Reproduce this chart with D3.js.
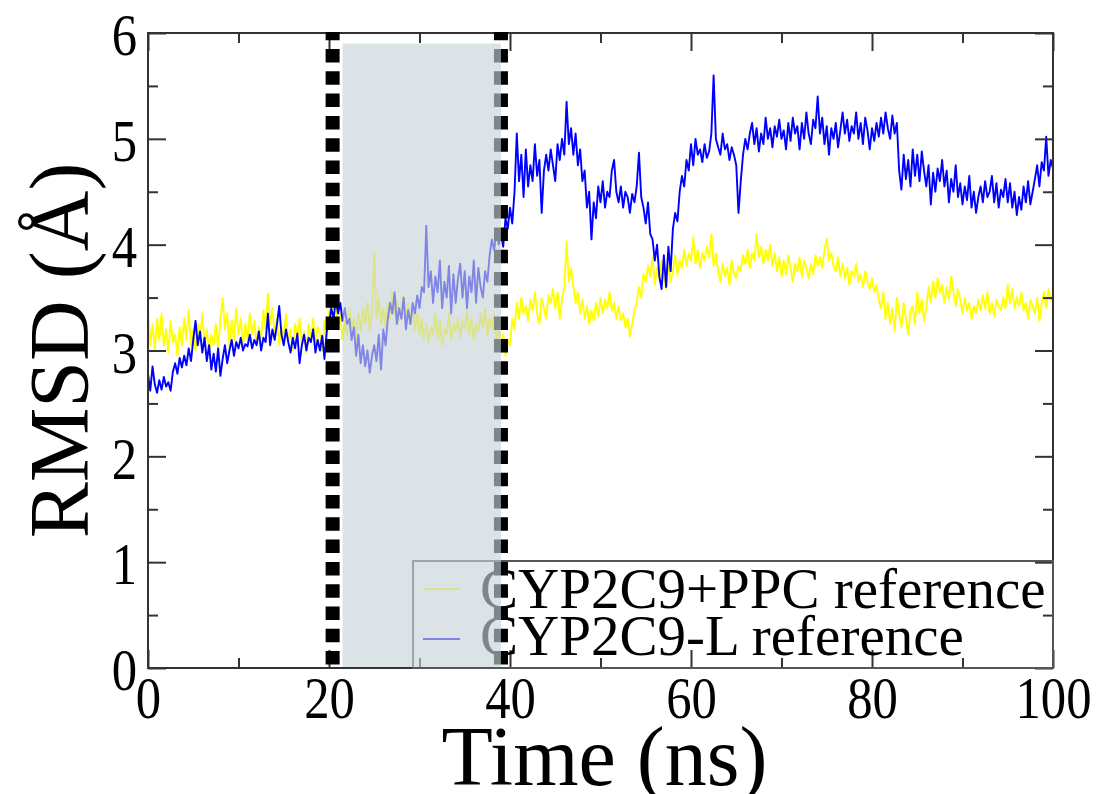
<!DOCTYPE html>
<html>
<head>
<meta charset="utf-8">
<script src="https://cdn.jsdelivr.net/npm/d3@7"></script>
<style>
  html, body { margin: 0; padding: 0; background: #fff; }
  svg text { font-family: "Liberation Serif", "Times New Roman", serif; fill: #000; }
</style>
</head>
<body>
<svg id="chart" width="1100" height="794"></svg>
<script>
// RMSD trajectories, one frame every 0.25 ns from 0 to 100 ns
const timeStep = 0.25;

const rmsdPPC = [
  3.40,3.05,3.25,3.00, 3.30,3.10,3.35,3.05, 3.20,2.98,3.28,3.08, 3.15,2.95,3.22,3.05,
  3.30,3.10,3.38,3.05, 3.20,3.00,3.25,3.10, 3.35,3.05,3.20,2.98, 3.15,3.05,3.25,3.00,
  3.30,3.50,3.20,3.35, 3.05,3.28,3.10,3.40, 3.15,3.30,3.05,3.25, 3.10,3.35,3.15,3.28,
  3.05,3.22,3.12,3.38, 3.20,3.54,3.25,3.40, 3.15,3.30,3.05,3.22, 3.10,3.35,3.08,3.20,
  3.00,3.25,3.12,3.30, 3.05,3.18,2.98,3.25, 3.10,3.30,3.05,3.22, 3.15,3.00,3.28,3.10,
  3.35,3.50,3.30,3.42, 3.20,3.35,3.10,3.28, 3.15,3.40,3.22,3.30, 3.10,3.35,3.18,3.40,
  3.25,3.45,3.20,3.35, 3.92,3.30,3.50,3.25, 3.40,3.22,3.45,3.30, 3.55,3.35,3.48,3.28,
  3.40,3.52,3.30,3.45, 3.25,3.40,3.20,3.35, 3.15,3.30,3.10,3.25, 3.08,3.22,3.15,3.35,
  3.12,3.28,3.05,3.20, 3.15,3.35,3.10,3.25, 3.18,3.30,3.12,3.28, 3.20,3.38,3.15,3.30,
  3.10,3.25,3.18,3.35, 3.22,3.40,3.15,3.30, 3.20,3.35,3.05,3.25, 2.98,3.15,2.95,3.10,
  3.05,3.30,3.20,3.45, 3.30,3.50,3.35,3.42, 3.28,3.48,3.38,3.55, 3.35,3.25,3.50,3.40,
  3.30,3.52,3.45,3.58, 3.40,3.55,3.30,3.48, 3.60,4.03,3.65,3.78, 3.60,3.45,3.55,3.35,
  3.48,3.30,3.42,3.25, 3.38,3.28,3.45,3.32, 3.50,3.35,3.48,3.40, 3.55,3.38,3.45,3.30,
  3.42,3.28,3.35,3.22, 3.30,3.13,3.25,3.38, 3.45,3.60,3.50,3.72, 3.65,3.80,3.70,3.88,
  3.62,3.78,3.68,3.85, 3.70,3.58,3.82,3.65, 3.75,3.90,3.72,3.85, 3.78,3.95,3.80,3.92,
  3.85,4.07,3.82,3.95, 3.78,3.92,3.85,3.98, 3.88,4.10,3.80,3.92, 3.75,3.65,3.82,3.70,
  3.78,3.62,3.85,3.72, 3.68,3.80,3.75,3.90, 3.82,3.95,3.78,3.92, 3.85,4.10,3.88,3.98,
  3.82,3.95,3.85,4.00, 3.80,3.92,3.75,3.88, 3.70,3.85,3.72,3.90, 3.78,3.65,3.82,3.75,
  3.88,3.70,3.85,3.78, 3.68,3.82,3.72,3.90, 3.80,3.88,3.78,3.95, 4.06,3.85,3.92,3.80,
  3.75,3.88,3.70,3.82, 3.68,3.78,3.62,3.75, 3.70,3.82,3.65,3.72, 3.60,3.75,3.65,3.58,
  3.68,3.55,3.62,3.48, 3.40,3.55,3.30,3.45, 3.25,3.40,3.18,3.50, 3.35,3.22,3.45,3.30,
  3.15,3.38,3.42,3.25, 3.55,3.35,3.48,3.28, 3.40,3.60,3.45,3.65, 3.50,3.68,3.55,3.62,
  3.45,3.60,3.48,3.70, 3.55,3.42,3.58,3.48, 3.35,3.50,3.38,3.45, 3.30,3.42,3.35,3.48,
  3.38,3.52,3.40,3.55, 3.35,3.45,3.32,3.48, 3.42,3.38,3.50,3.40, 3.62,3.45,3.58,3.40,
  3.50,3.42,3.55,3.38, 3.45,3.30,3.48,3.42, 3.35,3.50,3.28,3.45, 3.55,3.40,3.58,3.48,
  3.52
];

const rmsdL = [
  2.78,2.62,2.85,2.68, 2.60,2.72,2.63,2.75, 2.66,2.70,2.62,2.80, 2.88,2.78,2.93,2.84,
  2.95,2.86,3.02,2.90, 3.10,3.28,3.05,3.18, 2.98,3.12,2.90,3.05, 2.82,2.97,2.80,3.02,
  2.76,2.92,3.05,2.88, 3.00,3.10,2.95,3.08, 3.02,3.12,3.00,3.06, 3.04,3.15,3.02,3.10,
  3.05,3.18,3.00,3.12, 3.08,3.35,3.05,3.20, 3.10,3.25,3.42,3.15, 3.05,3.20,3.08,2.98,
  3.12,3.02,3.16,2.88, 3.05,3.15,3.00,3.12, 3.08,3.20,2.98,3.10, 3.00,3.14,2.92,3.18,
  3.25,3.40,3.30,3.48, 3.35,3.45,3.28,3.40, 3.25,3.30,3.10,3.22, 2.95,3.15,2.88,3.05,
  2.85,3.00,2.79,2.95, 3.05,2.90,3.15,2.82, 3.20,3.05,3.30,3.45, 3.35,3.55,3.25,3.40,
  3.30,3.50,3.20,3.38, 3.25,3.45,3.35,3.52, 3.40,3.60,3.55,4.18, 3.60,3.75,3.45,3.70,
  3.55,3.85,3.40,3.65, 3.50,3.80,3.35,3.72, 3.45,3.68,3.82,3.50, 3.75,3.40,3.70,3.55,
  3.85,3.45,3.78,3.60, 3.50,3.75,3.65,3.90, 4.05,3.95,4.12,4.00, 4.10,3.98,4.25,4.15,
  4.35,4.20,4.50,5.05, 4.60,4.85,4.45,4.90, 4.55,4.75,4.60,4.95, 4.65,4.80,4.30,4.70,
  4.85,4.70,4.90,4.75, 4.60,4.95,4.80,5.00, 4.85,5.35,4.95,5.10, 4.85,5.05,4.75,4.90,
  4.60,4.70,4.35,4.50, 4.05,4.40,4.25,4.55, 4.40,4.60,4.35,4.50, 4.45,4.70,4.80,4.50,
  4.40,4.55,4.35,4.50, 4.45,4.30,4.48,4.40, 4.55,4.87,4.45,4.35, 4.20,4.40,4.10,4.05,
  3.85,4.00,3.70,3.58, 3.90,3.60,3.98,3.75, 4.15,4.30,4.22,4.50, 4.65,4.55,4.80,4.70,
  4.95,4.75,5.00,4.85, 4.90,4.78,4.95,4.82, 4.88,5.05,5.60,5.00, 4.92,4.85,5.05,4.90,
  4.95,4.80,4.92,4.85, 4.75,4.30,4.60,4.85, 5.00,4.90,5.05,5.15, 4.95,5.10,4.88,5.05,
  4.95,5.20,5.00,5.10, 4.92,5.12,5.02,5.18, 5.00,5.08,4.90,5.15, 4.98,5.20,5.05,5.12,
  4.90,5.15,5.00,5.25, 5.05,4.95,5.18,5.10, 5.40,5.05,5.20,4.95, 5.12,4.85,5.10,5.00,
  5.15,4.92,5.08,5.25, 5.05,5.18,4.98,5.12, 5.05,5.25,5.00,5.15, 4.95,5.20,5.08,4.90,
  5.10,4.98,5.15,5.02, 5.20,5.05,5.25,5.10, 5.00,5.22,5.05,5.15, 4.70,4.52,4.85,4.62,
  4.80,4.55,4.90,4.65, 4.85,4.60,4.88,4.70, 4.55,4.75,4.38,4.68, 4.50,4.72,4.60,4.80,
  4.55,4.70,4.40,4.62, 4.50,4.75,4.45,4.58, 4.38,4.55,4.42,4.65, 4.35,4.50,4.30,4.45,
  4.55,4.40,4.60,4.45, 4.50,4.65,4.40,4.58, 4.35,4.52,4.45,4.62, 4.40,4.58,4.35,4.50,
  4.28,4.45,4.33,4.55, 4.40,4.60,4.38,4.50, 4.62,4.75,4.55,4.78, 4.70,5.02,4.65,4.80,
  4.72
];

const seriesNames = ["CYP2C9+PPC reference", "CYP2C9-L reference"];
const seriesColors = ["#ffff00", "#0000ff"];

const xMajorTicks = [0, 20, 40, 60, 80, 100];
const xMinorTicks = [10, 30, 50, 70, 90];
const yMajorTicks = [0, 1, 2, 3, 4, 5, 6];
const yMinorTicks = [0.5, 1.5, 2.5, 3.5, 4.5, 5.5];

// Time boundaries (ns) marking the transition window
const boundaryTimes = [20.4, 39.0];
const windowTimes = [21.5, 39.0];
const windowTopRmsd = 5.9;

// ---- layout ----
const svg = d3.select("#chart");
const plot = { left: 148, right: 1053, top: 33, bottom: 668 };

const x = d3.scaleLinear().domain([0, 100]).range([plot.left, plot.right]);
const y = d3.scaleLinear().domain([0, 6]).range([plot.bottom, plot.top]);

const axisColor = "#333";
const majorLen = 18, minorLen = 10;
const tickFont = 59;
const tickSquash = 0.86; // narrow digits of the tick labels

// ---- data lines (blue drawn above yellow) ----
const line = d3.line()
  .x((d, i) => x(i * timeStep))
  .y(d => y(d));

svg.append("clipPath").attr("id", "plotClip")
  .append("rect")
  .attr("x", plot.left).attr("y", plot.top)
  .attr("width", plot.right - plot.left).attr("height", plot.bottom - plot.top);

const lines = svg.append("g").attr("clip-path", "url(#plotClip)");
[rmsdPPC, rmsdL].forEach((series, k) => {
  lines.append("path")
    .datum(series)
    .attr("d", line)
    .attr("fill", "none")
    .attr("stroke", seriesColors[k])
    .attr("stroke-width", 1.9)
    .attr("stroke-linejoin", "round");
});

// ---- axes with inward ticks on all four sides ----
function styleAxis(g) {
  g.select(".domain").remove();
  g.selectAll(".tick line").attr("stroke", axisColor).attr("stroke-width", 2);
}

const bottomMajor = svg.append("g")
  .attr("transform", `translate(0,${plot.bottom})`)
  .call(d3.axisBottom(x).tickValues(xMajorTicks).tickSizeInner(-majorLen).tickSizeOuter(0)
    .tickFormat(d3.format("d")));
styleAxis(bottomMajor);
bottomMajor.selectAll(".tick text")
  .attr("x", 0).attr("y", 50).attr("dy", null)
  .attr("transform", `scale(${tickSquash},1)`)
  .attr("font-size", tickFont)
  .attr("font-family", "Liberation Serif");

const bottomMinor = svg.append("g")
  .attr("transform", `translate(0,${plot.bottom})`)
  .call(d3.axisBottom(x).tickValues(xMinorTicks).tickSizeInner(-minorLen).tickSizeOuter(0).tickFormat(""));
styleAxis(bottomMinor);

const topMajor = svg.append("g")
  .attr("transform", `translate(0,${plot.top})`)
  .call(d3.axisTop(x).tickValues(xMajorTicks).tickSizeInner(-majorLen).tickSizeOuter(0).tickFormat(""));
styleAxis(topMajor);
const topMinor = svg.append("g")
  .attr("transform", `translate(0,${plot.top})`)
  .call(d3.axisTop(x).tickValues(xMinorTicks).tickSizeInner(-minorLen).tickSizeOuter(0).tickFormat(""));
styleAxis(topMinor);

const leftMajor = svg.append("g")
  .attr("transform", `translate(${plot.left},0)`)
  .call(d3.axisLeft(y).tickValues(yMajorTicks).tickSizeInner(-majorLen).tickSizeOuter(0)
    .tickFormat(d3.format("d")));
styleAxis(leftMajor);
leftMajor.selectAll(".tick text")
  .attr("x", -11 / tickSquash)
  .attr("dy", "0.37em")
  .attr("transform", `scale(${tickSquash},1)`)
  .attr("font-size", tickFont)
  .attr("font-family", "Liberation Serif");

const leftMinor = svg.append("g")
  .attr("transform", `translate(${plot.left},0)`)
  .call(d3.axisLeft(y).tickValues(yMinorTicks).tickSizeInner(-minorLen).tickSizeOuter(0).tickFormat(""));
styleAxis(leftMinor);

const rightMajor = svg.append("g")
  .attr("transform", `translate(${plot.right},0)`)
  .call(d3.axisRight(y).tickValues(yMajorTicks).tickSizeInner(-majorLen).tickSizeOuter(0).tickFormat(""));
styleAxis(rightMajor);
const rightMinor = svg.append("g")
  .attr("transform", `translate(${plot.right},0)`)
  .call(d3.axisRight(y).tickValues(yMinorTicks).tickSizeInner(-minorLen).tickSizeOuter(0).tickFormat(""));
styleAxis(rightMinor);

// frame
svg.append("rect")
  .attr("x", plot.left).attr("y", plot.top)
  .attr("width", plot.right - plot.left).attr("height", plot.bottom - plot.top)
  .attr("fill", "none").attr("stroke", axisColor).attr("stroke-width", 2);

// ---- axis titles ----
svg.append("text")
  .attr("x", (plot.left + plot.right) / 2 + 4)
  .attr("y", 785)
  .attr("text-anchor", "middle")
  .attr("font-size", 84)
  .text("Time (ns)");

svg.append("text")
  .attr("transform", `translate(88,${(plot.top + plot.bottom) / 2}) rotate(-90)`)
  .attr("text-anchor", "middle")
  .attr("font-size", 84)
  .text("RMSD (Å)");

// ---- legend (outlined, no fill) ----
const legend = svg.append("g");
legend.append("rect")
  .attr("x", 413).attr("y", 561)
  .attr("width", plot.right - 413).attr("height", plot.bottom - 561)
  .attr("fill", "none").attr("stroke", "#555").attr("stroke-width", 2);

seriesNames.forEach((name, k) => {
  const cy = 589 + k * 50;
  legend.append("line")
    .attr("x1", 423).attr("x2", 460)
    .attr("y1", cy).attr("y2", cy)
    .attr("stroke", seriesColors[k]).attr("stroke-width", 2);
  legend.append("text")
    .attr("x", 480).attr("y", 608 + k * 47)
    .attr("font-size", 57)
    .text(name);
});

// ---- dotted boundary markers ----
boundaryTimes.forEach(t => {
  svg.append("line")
    .attr("x1", x(t)).attr("x2", x(t))
    .attr("y1", plot.top - 1).attr("y2", plot.bottom)
    .attr("stroke", "#000")
    .attr("stroke-width", 14)
    .attr("stroke-dasharray", "13.5,8.8")
    .attr("stroke-dashoffset", 5.3);
});

// ---- translucent shading of the transition window ----
svg.append("rect")
  .attr("x", x(windowTimes[0]))
  .attr("y", y(windowTopRmsd))
  .attr("width", x(windowTimes[1]) - x(windowTimes[0]))
  .attr("height", y(0) - 1 - y(windowTopRmsd))
  .attr("fill", "rgb(200,211,216)")
  .attr("fill-opacity", 0.635);
</script>
</body>
</html>
